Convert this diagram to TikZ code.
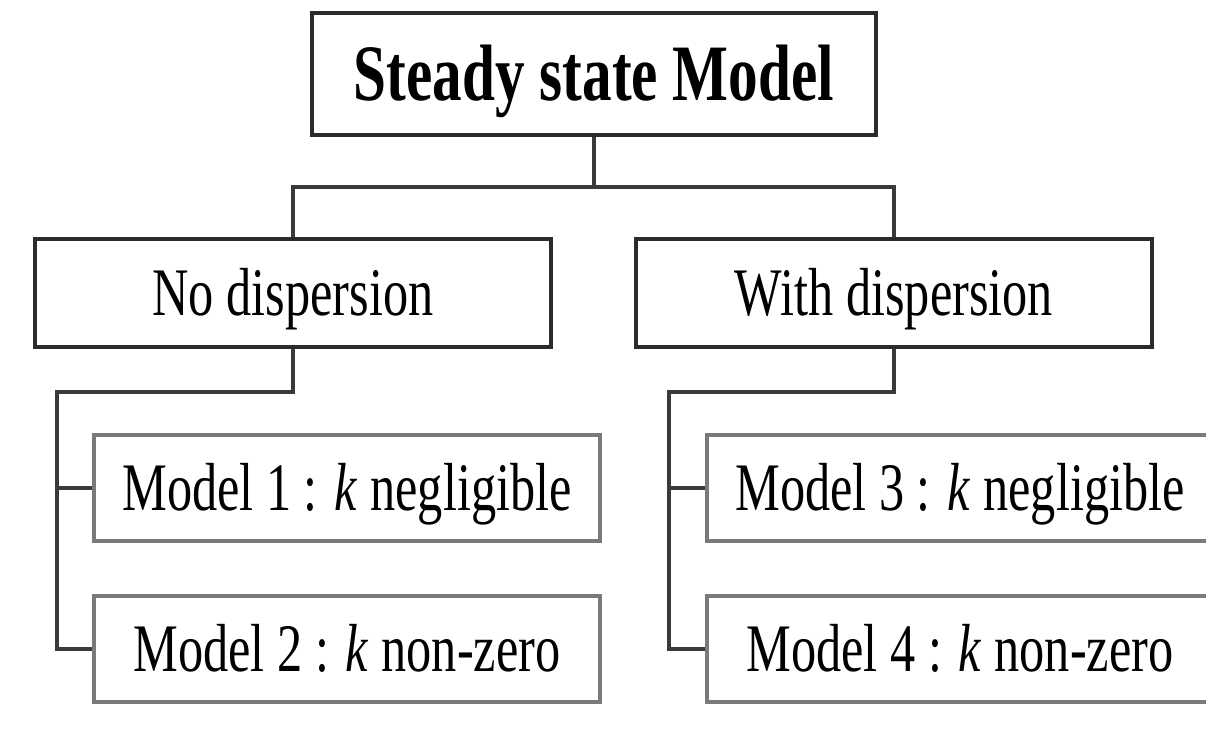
\documentclass[tikz,border=0pt]{standalone}
\usepackage{fontspec}
\setmainfont{Liberation Serif}[FakeStretch=0.74]
\usepackage{tikz}
\usetikzlibrary{positioning, calc}
\definecolor{boxline}{HTML}{2B2B2B}
\definecolor{modelline}{HTML}{7A7A7A}
\definecolor{linkgray}{HTML}{3A3A3A}

\begin{document}
\begin{tikzpicture}[
    x=0.5pt, y=-0.5pt,
    mainbox/.style={rectangle, draw=boxline, line width=2.2pt, fill=white, inner sep=0pt, minimum width=282pt, minimum height=61pt, text height=26.5pt, text depth=0pt, font=\fontsize{40}{48}\selectfont\bfseries},
    groupbox/.style={rectangle, draw=boxline, line width=2pt, fill=white, inner sep=0pt, minimum width=258pt, minimum height=54pt, text height=22.5pt, text depth=0pt, font=\fontsize{34}{40}\selectfont},
    modelbox/.style={rectangle, draw=modelline, line width=1.6pt, fill=white, inner sep=0pt, minimum width=253pt, minimum height=53pt, text height=22.5pt, text depth=0pt, font=\fontsize{34}{40}\selectfont},
    link/.style={draw=linkgray, line width=1.6pt},
]

\clip (0,0) rectangle (1206,754);
\fill[white] (0,0) rectangle (1206,754);

% top level
\node[mainbox] (steady) at (594,74) {Steady state Model};

% dispersion groups
\node[groupbox] (nodisp) at (293,293) {No dispersion};
\node[groupbox] (withdisp) at (894,293) {With dispersion};

% models
\node[modelbox] (model1) at (347,488) {Model 1 : \textit{k} negligible};
\node[modelbox] (model2) at (347,649) {Model 2 : \textit{k} non-zero};
\node[modelbox] (model3) at (960,488) {Model 3 : \textit{k} negligible};
\node[modelbox] (model4) at (960,649) {Model 4 : \textit{k} non-zero};

% connectors
\coordinate (split) at (594,187);
\coordinate (leftbus) at (57,392);
\coordinate (rightbus) at (669,392);

\draw[link] (steady.south) -- (split);
\draw[link] (nodisp.north) |- (split) -| (withdisp.north);

\draw[link] (nodisp.south) |- (leftbus) -- (leftbus |- model2.west) -- (model2.west);
\draw[link] (leftbus |- model1.west) -- (model1.west);

\draw[link] (withdisp.south) |- (rightbus) -- (rightbus |- model4.west) -- (model4.west);
\draw[link] (rightbus |- model3.west) -- (model3.west);

\end{tikzpicture}
\end{document}
